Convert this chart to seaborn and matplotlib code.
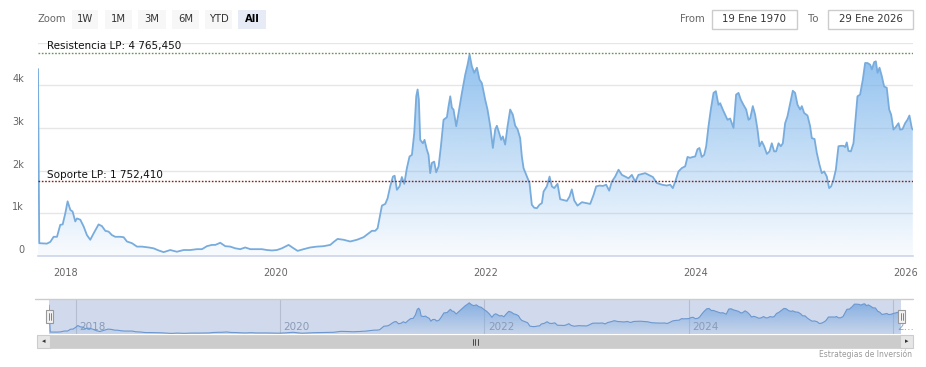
import numpy as np
import pandas as pd
import matplotlib
matplotlib.use("Agg")
import matplotlib.pyplot as plt
import seaborn as sns
from matplotlib.patches import Rectangle
from matplotlib.lines import Line2D
from matplotlib.colors import to_rgb
from matplotlib.transforms import ScaledTranslation

# --- data ---
years = [
    2017.740, 2017.752, 2017.825, 2017.857, 2017.889, 2017.921, 2017.952, 2017.975,
    2018.000, 2018.022, 2018.048, 2018.070, 2018.095, 2018.111, 2018.143, 2018.175,
    2018.206, 2018.238, 2018.270, 2018.317, 2018.349, 2018.381, 2018.413, 2018.444,
    2018.476, 2018.524, 2018.556, 2018.587, 2018.635, 2018.683, 2018.730, 2018.794,
    2018.841, 2018.889, 2018.937, 2019.000, 2019.063, 2019.127, 2019.190, 2019.254,
    2019.302, 2019.349, 2019.397, 2019.429, 2019.476, 2019.524, 2019.571, 2019.619,
    2019.667, 2019.714, 2019.762, 2019.825, 2019.873, 2019.921, 2019.968, 2020.016,
    2020.063, 2020.127, 2020.175, 2020.213, 2020.270, 2020.333, 2020.397, 2020.460,
    2020.524, 2020.562, 2020.594, 2020.651, 2020.714, 2020.778, 2020.841, 2020.889,
    2020.921, 2020.952, 2020.975, 2021.016, 2021.048, 2021.070, 2021.095, 2021.121,
    2021.137, 2021.159, 2021.184, 2021.206, 2021.229, 2021.254, 2021.279, 2021.302,
    2021.324, 2021.343, 2021.356, 2021.368, 2021.381, 2021.406, 2021.422, 2021.444,
    2021.460, 2021.476, 2021.492, 2021.514, 2021.533, 2021.556, 2021.578, 2021.603,
    2021.635, 2021.651, 2021.667, 2021.683, 2021.698, 2021.724, 2021.746, 2021.778,
    2021.810, 2021.832, 2021.851, 2021.873, 2021.895, 2021.921, 2021.946, 2021.968,
    2022.000, 2022.022, 2022.048, 2022.073, 2022.095, 2022.111, 2022.133, 2022.152,
    2022.168, 2022.190, 2022.213, 2022.238, 2022.263, 2022.286, 2022.308, 2022.333,
    2022.349, 2022.365, 2022.397, 2022.422, 2022.444, 2022.467, 2022.492, 2022.517,
    2022.540, 2022.556, 2022.587, 2022.613, 2022.635, 2022.657, 2022.689, 2022.714,
    2022.746, 2022.778, 2022.803, 2022.825, 2022.848, 2022.879, 2022.921, 2022.962,
    2023.000, 2023.032, 2023.057, 2023.089, 2023.121, 2023.152, 2023.181, 2023.206,
    2023.238, 2023.270, 2023.302, 2023.333, 2023.365, 2023.397, 2023.429, 2023.460,
    2023.492, 2023.524, 2023.556, 2023.597, 2023.635, 2023.683, 2023.730, 2023.762,
    2023.787, 2023.810, 2023.841, 2023.873, 2023.905, 2023.927, 2023.952, 2023.978,
    2024.000, 2024.022, 2024.041, 2024.063, 2024.086, 2024.105, 2024.127, 2024.149,
    2024.175, 2024.197, 2024.222, 2024.238, 2024.263, 2024.286, 2024.308, 2024.333,
    2024.365, 2024.390, 2024.413, 2024.435, 2024.460, 2024.486, 2024.508, 2024.524,
    2024.549, 2024.571, 2024.594, 2024.613, 2024.635, 2024.657, 2024.683, 2024.708,
    2024.730, 2024.752, 2024.771, 2024.794, 2024.816, 2024.835, 2024.857, 2024.879,
    2024.905, 2024.930, 2024.952, 2024.975, 2025.000, 2025.016, 2025.038, 2025.070,
    2025.095, 2025.111, 2025.137, 2025.159, 2025.184, 2025.206, 2025.229, 2025.254,
    2025.276, 2025.295, 2025.317, 2025.340, 2025.365, 2025.387, 2025.413, 2025.429,
    2025.444, 2025.460, 2025.483, 2025.508, 2025.524, 2025.546, 2025.571, 2025.597,
    2025.619, 2025.641, 2025.667, 2025.683, 2025.705, 2025.721, 2025.737, 2025.756,
    2025.778, 2025.800, 2025.825, 2025.848, 2025.867, 2025.889, 2025.911, 2025.937,
    2025.952, 2025.975, 2026.000, 2026.022, 2026.041, 2026.063, 2026.073,
]
price = [
    4380, 300, 290, 330, 450, 450, 730, 740,
    1000, 1280, 1080, 1040, 810, 880, 850, 690,
    490, 380, 530, 740, 700, 590, 570, 490,
    450, 450, 440, 340, 300, 220, 220, 200,
    180, 130, 90, 140, 100, 140, 140, 160,
    160, 230, 260, 260, 310, 230, 220, 180,
    160, 200, 160, 160, 160, 140, 130, 140,
    180, 260, 180, 120, 160, 200, 220, 230,
    260, 340, 400, 380, 340, 380, 440, 530,
    590, 590, 650, 1180, 1220, 1350, 1630, 1860,
    1880, 1550, 1630, 1850, 1690, 2060, 2330, 2370,
    2880, 3740, 3900, 3660, 2720, 2640, 2720, 2490,
    2370, 1940, 2180, 2210, 1960, 2100, 2570, 3190,
    3250, 3510, 3740, 3470, 3430, 3040, 3350, 3820,
    4250, 4480, 4720, 4440, 4290, 4410, 4130, 4050,
    3660, 3430, 3040, 2530, 2960, 3050, 2880, 2720,
    2800, 2610, 3040, 3430, 3310, 3050, 2970, 2760,
    2330, 2060, 1860, 1710, 1200, 1130, 1120, 1200,
    1240, 1510, 1630, 1860, 1630, 1590, 1690, 1330,
    1310, 1290, 1390, 1560, 1300, 1180, 1260, 1240,
    1220, 1430, 1630, 1650, 1640, 1670, 1530, 1740,
    1860, 2020, 1900, 1860, 1820, 1900, 1740, 1900,
    1920, 1940, 1900, 1850, 1710, 1670, 1650, 1670,
    1590, 1740, 1980, 2060, 2100, 2320, 2300, 2320,
    2330, 2500, 2530, 2320, 2370, 2570, 3040, 3430,
    3820, 3860, 3540, 3580, 3430, 3310, 3190, 3220,
    3000, 3780, 3820, 3660, 3540, 3430, 3190, 3220,
    3510, 3310, 2960, 2570, 2680, 2570, 2390, 2450,
    2640, 2450, 2450, 2640, 2570, 2640, 3110, 3270,
    3580, 3870, 3820, 3540, 3430, 3510, 3350, 3290,
    3040, 2760, 2740, 2410, 2140, 1940, 1980, 1860,
    1590, 1630, 1780, 2020, 2570, 2580, 2580, 2550,
    2660, 2460, 2450, 2640, 3110, 3740, 3780, 4130,
    4520, 4520, 4480, 4370, 4540, 4560, 4290, 4410,
    4210, 3970, 3940, 3430, 3310, 2960, 3020, 3110,
    2960, 2970, 3110, 3190, 3290, 3000, 2960,
]
resistance = 4765.450
support = 1752.410
year_ticks = [2018, 2020, 2022, 2024, 2026]
y_ticks = [0, 1000, 2000, 3000, 4000, 5000]
y_labels = ["0", "1k", "2k", "3k", "4k", ""]
zoom_buttons = ["1W", "1M", "3M", "6M", "YTD", "All"]

df = pd.DataFrame({"year": years, "price": price})

W, H = 926, 367
X0, X1 = 2017.74, 2026.075
LINE = "#78acdd"
FILL = "#7cb5ec"
GRID = "#e6e6e6"
AXIS = "#ccd6eb"


def box(l, t, r, b):
    return [l / W, 1 - b / H, (r - l) / W, (b - t) / H]


def fig_rect(l, t, r, b, **kw):
    fig.add_artist(Rectangle((l / W, 1 - b / H), (r - l) / W, (b - t) / H,
                             transform=fig.transFigure, **kw))


def fig_text(x, y, s, **kw):
    fig.text(x / W, 1 - y / H, s, **kw)


def gradient_area(ax, top, a0, a1):
    grad = np.zeros((256, 1, 4))
    grad[..., :3] = to_rgb(FILL)
    grad[:, 0, 3] = np.linspace(a0, a1, 256)
    im = ax.imshow(grad, extent=[X0, X1, 0, top], origin="lower",
                   aspect="auto", zorder=2)
    poly = ax.fill_between(df["year"], df["price"], 0, color="none", lw=0)
    im.set_clip_path(poly.get_paths()[0], transform=ax.transData)


sns.set_style("white")
plt.rcParams["font.family"] = ["DejaVu Sans"]

fig = plt.figure(figsize=(W / 100, H / 100), dpi=100)

# --- main chart ---
ax = fig.add_axes(box(38, 42.5, 913, 256))
gradient_area(ax, 5000, 0.05, 0.88)
sns.lineplot(data=df, x="year", y="price", ax=ax, color=LINE,
             linewidth=1.3, estimator=None, zorder=4)
ax.set_xlim(X0, X1)
ax.set_ylim(0, 5000)
ax.set_xlabel("")
ax.set_ylabel("")
ax.set_yticks(y_ticks)
ax.set_yticklabels(y_labels)
ax.set_xticks(year_ticks)
ax.set_xticklabels([str(y) for y in year_ticks])
ax.grid(axis="y", color=GRID, linewidth=1)
ax.set_axisbelow(True)
for s in ["top", "left", "right"]:
    ax.spines[s].set_visible(False)
ax.spines["bottom"].set_color(AXIS)
ax.spines["bottom"].set_linewidth(1.2)
ax.tick_params(axis="x", length=7, width=0.8, color=AXIS, pad=1.5,
               labelsize=7, labelcolor="#666666")
ax.tick_params(axis="y", length=0, pad=10, labelsize=7, labelcolor="#666666")
for lbl in ax.get_yticklabels():
    lbl.set_transform(lbl.get_transform() + ScaledTranslation(0, 0.07, fig.dpi_scale_trans))

ax.axhline(resistance, color="#6e8f5e", lw=1, ls=(0, (1.2, 1.2)), zorder=5)
ax.axhline(support, color="#8b1a1a", lw=1, ls=(0, (1.2, 1.2)), zorder=5)
ax.text(0.0103, resistance + 30, "Resistencia LP: 4 765,450", transform=ax.get_yaxis_transform(),
        fontsize=7.5, color="#111111", va="bottom", zorder=6)
ax.text(0.0103, support + 30, "Soporte LP: 1 752,410", transform=ax.get_yaxis_transform(),
        fontsize=7.5, color="#111111", va="bottom", zorder=6)

# --- navigator ---
nav = fig.add_axes(box(49, 299, 901, 334))
gradient_area(nav, 5300, 0.1, 0.9)
sns.lineplot(data=df, x="year", y="price", ax=nav, color="#6f9fd6",
             linewidth=0.8, estimator=None, zorder=4)
nav.set_xlim(X0, X1)
nav.set_ylim(0, 5300)
nav.axis("off")
for yr in year_ticks:
    nav.axvline(yr, color="#d8d8d8", lw=0.8, zorder=1)
    nav.text(yr + 0.035, 0.2, "2…" if yr == 2026 else str(yr), transform=nav.get_xaxis_transform(),
             fontsize=7.5, color="#9aa3b3", va="center", ha="left", zorder=3)
nav.add_patch(Rectangle((0, 0), 1, 1, transform=nav.transAxes,
                        facecolor=(102 / 255, 133 / 255, 194 / 255, 0.3), lw=0, zorder=5))
fig.add_artist(Line2D([35 / W, 913 / W], [1 - 299 / H] * 2, transform=fig.transFigure,
                      color="#cccccc", lw=1))
for hx in (46, 898):
    fig_rect(hx, 310, hx + 7, 323, facecolor="#f2f2f2", edgecolor="#999999", lw=0.8)
    for dx in (2.5, 4.5):
        fig.add_artist(Line2D([(hx + dx) / W] * 2, [1 - 313 / H, 1 - 320 / H],
                              transform=fig.transFigure, color="#555555", lw=0.5))

# scrollbar
fig_rect(37, 335, 913, 348, facecolor="#f2f2f2", edgecolor="none")
fig_rect(50, 335, 900, 348, facecolor="#cccccc", edgecolor="#cccccc", lw=0.5)
for l in (37, 900):
    fig_rect(l, 335, l + 13, 348, facecolor="#e6e6e6", edgecolor="#cccccc", lw=0.8)
fig_text(43.5, 341.5, "◂", fontsize=5, color="#333333", ha="center", va="center")
fig_text(906.5, 341.5, "▸", fontsize=5, color="#333333", ha="center", va="center")
for gx in (472.5, 475, 477.5):
    fig.add_artist(Line2D([gx / W] * 2, [1 - 338.5 / H, 1 - 344.5 / H],
                          transform=fig.transFigure, color="#333333", lw=0.6))
fig_text(912, 354, "Estrategias de Inversión", fontsize=5.5, color="#999999",
         ha="right", va="center")

# --- toolbar ---
fig_text(37, 19.5, "Zoom", fontsize=7.2, color="#666666", va="center")
btn_x = [(72, 98), (105, 132), (138, 166), (172, 199), (205, 232), (238, 266)]
for lab, (l, r) in zip(zoom_buttons, btn_x):
    sel = lab == "All"
    fig_rect(l, 9.5, r, 29, facecolor="#e6ebf5" if sel else "#f7f7f7", edgecolor="none")
    fig_text((l + r) / 2, 19.5, lab, fontsize=7.2, color="#000000" if sel else "#333333",
             ha="center", va="center", fontweight="bold" if sel else "normal")
fig_text(680, 19.5, "From", fontsize=7.3, color="#666666", va="center")
fig_text(808, 19.5, "To", fontsize=7.3, color="#666666", va="center")
for (l, r), s in zip([(712, 797), (828, 913)], ["19 Ene 1970", "29 Ene 2026"]):
    fig_rect(l, 10, r, 29, facecolor="white", edgecolor="#cccccc", lw=1)
    fig_text((l + r) / 2, 19.5, s, fontsize=7.3, color="#333333", ha="center", va="center")

fig.savefig("out.png", dpi=100)
